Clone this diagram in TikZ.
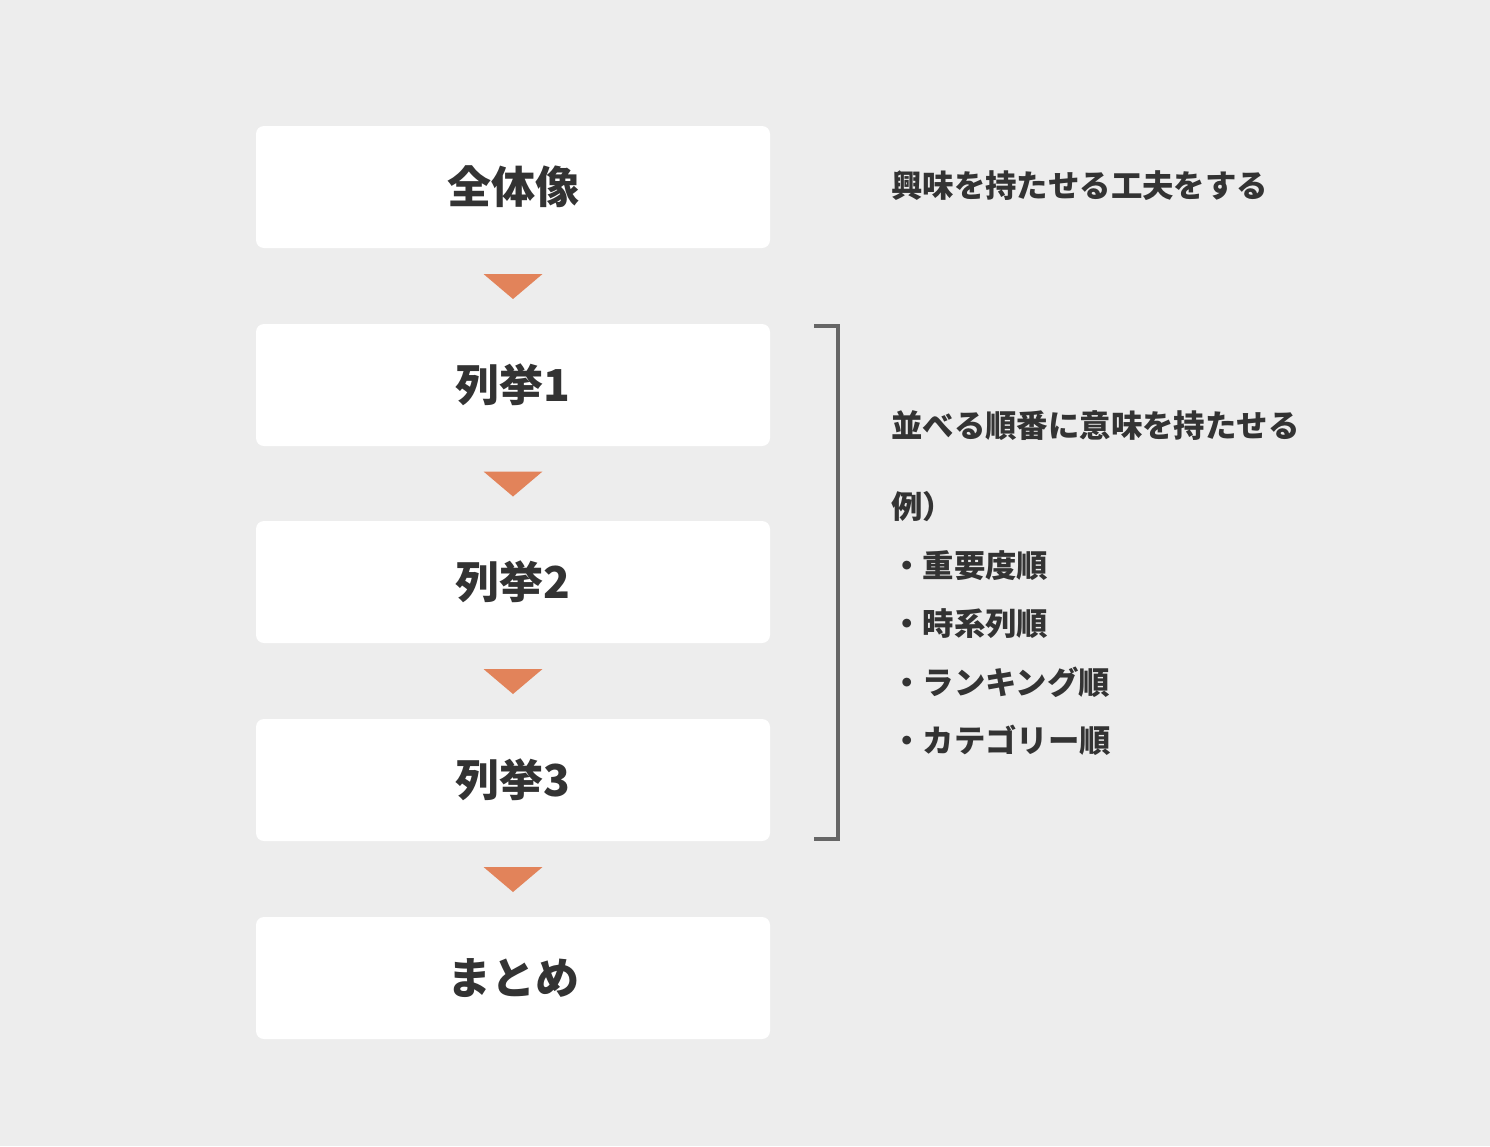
\documentclass[tikz,border=0pt]{standalone}
\usepackage{fontspec}
\setmainfont{Noto Sans CJK JP}
\usetikzlibrary{calc}
\definecolor{bg}{HTML}{EDEDED}
\definecolor{ink}{HTML}{333333}
\definecolor{tri}{HTML}{E2835A}
\definecolor{brk}{HTML}{666666}
\tikzset{
  stepbox/.style={fill=white,rounded corners=8pt,minimum width=514pt,minimum height=122pt,
    inner sep=0pt,text=ink,font=\fontsize{44pt}{44pt}\selectfont\bfseries},
  note/.style={anchor=west,inner sep=0pt,text=ink,font=\fontsize{31.4pt}{31.4pt}\selectfont\bfseries}
}
\begin{document}
\begin{tikzpicture}[x=1pt,y=-1pt]
\fill[bg] (0,0) rectangle (1490,1146);
\useasboundingbox (0,0) rectangle (1490,1146);
\node[stepbox] (s1) at (513,187) {全体像};
\node[stepbox] (s2) at (513,385) {列挙1};
\node[stepbox] (s3) at (513,582) {列挙2};
\node[stepbox] (s4) at (513,780) {列挙3};
\node[stepbox] (s5) at (513,978) {まとめ};
\foreach \a/\b in {s1/s2,s2/s3,s3/s4,s4/s5}{
  \coordinate (m) at ($(\a.south)!0.5!(\b.north)$);
  \fill[tri] ($(m)+(-29.5,-12)$) -- ($(m)+(29.5,-12)$) -- ($(m)+(0,13)$) -- cycle;
}
\draw[brk,line width=4pt] (814,326) -- (838,326) -- (838,839) -- (814,839);
\node[note] (n1) at (891,186) {興味を持たせる工夫をする};
\node[note] (n2) at (891,426) {並べる順番に意味を持たせる};
\node[note] (n3) at (891,507) {例）};
\node[note] (n4) at (891,566) {・重要度順};
\node[note] (n5) at (891,624) {・時系列順};
\node[note] (n6) at (891,682) {・ランキング順};
\node[note] (n7) at (891,740) {・カテゴリー順};
\end{tikzpicture}
\end{document}
